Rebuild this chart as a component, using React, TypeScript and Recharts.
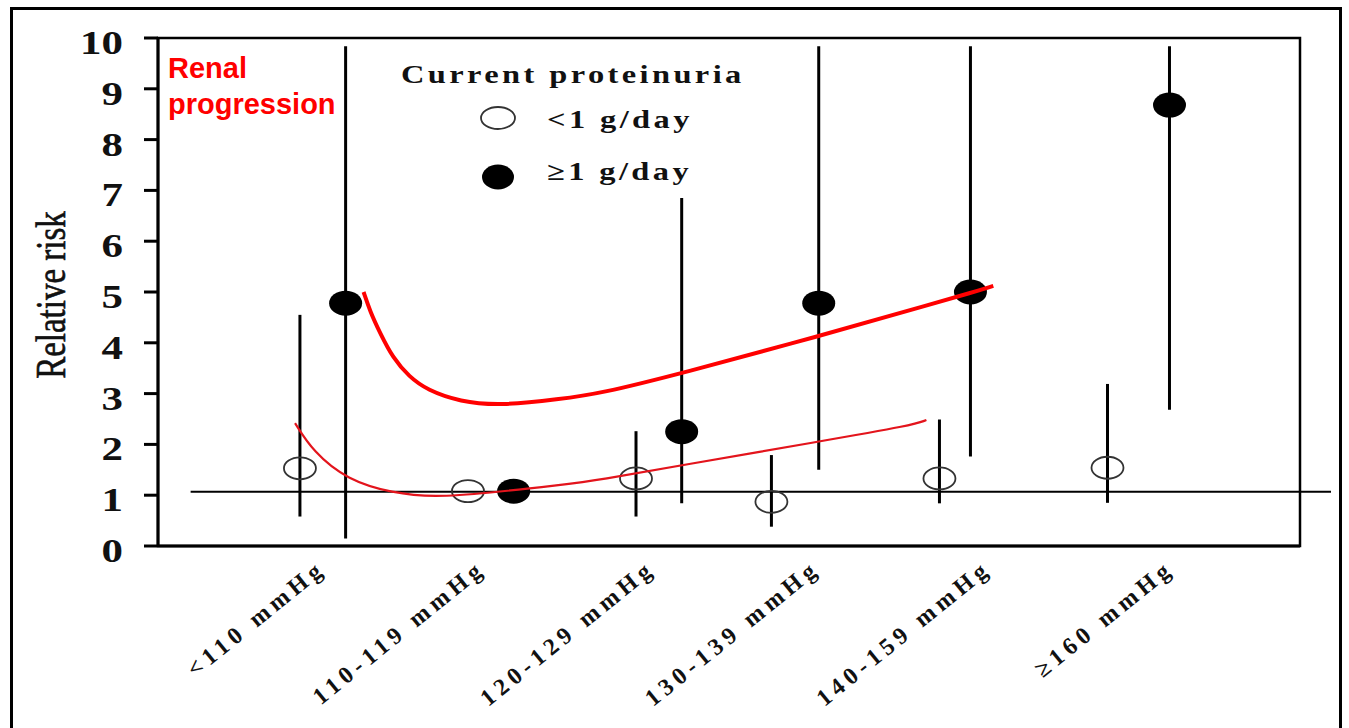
import React from 'react';
import { ComposedChart, XAxis, YAxis, Scatter, Line, ErrorBar, ReferenceLine, ReferenceArea, Legend, Label } from 'recharts';

// blood pressure groups and where their rotated labels sit on the x scale
const categories = ['<110 mmHg', '110-119 mmHg', '120-129 mmHg', '130-139 mmHg', '140-159 mmHg', '≥160 mmHg'];
const tickPos = [1.0, 1.98, 3.02, 4.03, 5.08, 6.2];
const yTicks = [0, 1, 2, 3, 4, 5, 6, 7, 8, 9, 10];

const legendTitle = 'Current proteinuria';
const lowName = '<1 g/day';
const highName = '≥1 g/day';

// current proteinuria <1 g/day (open circles)
const lowX = [0.87, 1.9, 2.93, 3.76, 4.79, 5.82];
const lowRR = [1.53, 1.08, 1.33, 0.87, 1.33, 1.54];
const lowCiLo = [0.58, null, 0.58, 0.38, 0.84, 0.85];
const lowCiHi = [4.55, null, 2.26, 1.79, 2.49, 3.19];

// current proteinuria >=1 g/day (filled circles)
const highX = [1.15, 2.18, 3.21, 4.05, 4.98, 6.2];
const highRR = [4.78, 1.08, 2.25, 4.78, 5.0, 8.68];
const highCiLo = [0.15, null, 0.84, 1.5, 1.76, 2.68];
const highCiHi = [9.84, null, 6.85, 9.84, 9.84, 9.84];

// hand drawn red trend curves
const thickX = [1.26, 1.3, 1.36, 1.44, 1.54, 1.65, 1.85, 2.1, 2.46, 2.71, 3.21, 4.04, 4.79, 4.98, 5.12];
const thickY = [5.0, 4.62, 4.2, 3.7, 3.33, 3.07, 2.84, 2.76, 2.89, 3.0, 3.4, 4.12, 4.81, 4.98, 5.12];
const thinX = [0.84, 0.95, 1.16, 1.44, 1.69, 2.02, 2.46, 2.71, 3.21, 4.04, 4.63, 4.71];
const thinY = [2.42, 1.86, 1.3, 1.04, 0.96, 1.04, 1.2, 1.3, 1.59, 2.05, 2.38, 2.48];

// RR = 1 line
const nullY = 1.07;
const nullFrom = 0.2;
const nullTo = 7.19;

const serif = "'Liberation Serif', 'Times New Roman', serif";

const toPoints = (xs: number[], ys: number[], lo: (number | null)[], hi: (number | null)[]) =>
  xs.map((x, i) => ({
    x,
    y: ys[i],
    err: [lo[i] == null ? 0 : ys[i] - (lo[i] as number), hi[i] == null ? 0 : (hi[i] as number) - ys[i]],
  }));

const lowData = toPoints(lowX, lowRR, lowCiLo, lowCiHi);
const highData = toPoints(highX, highRR, highCiLo, highCiHi);
const thickData = thickX.map((x, i) => ({ x, y: thickY[i] }));
const thinData = thinX.map((x, i) => ({ x, y: thinY[i] }));

const OpenDot = (p: any) => (
  <ellipse cx={p.cx} cy={p.cy} rx={16} ry={11} fill="none" stroke="#333" strokeWidth={1.8} />
);
const FilledDot = (p: any) => <ellipse cx={p.cx} cy={p.cy} rx={16.5} ry={12.5} fill="#000" />;

const YTick = ({ x, y, payload }: any) => (
  <text
    transform={`translate(${x},${y}) scale(1.3,1)`}
    x={0}
    y={16}
    textAnchor="end"
    fontFamily={serif}
    fontWeight="bold"
    fontSize={33}
    fill="#111"
  >
    {payload.value}
  </text>
);

const XTick = ({ x, y, payload }: any) => {
  const i = tickPos.indexOf(payload.value);
  return (
    <g transform={`translate(${x + 6},${y + 25})`}>
      <text
        transform="rotate(-39)"
        textAnchor="end"
        fontFamily={serif}
        fontWeight="bold"
        fontSize={24}
        letterSpacing={5}
        fill="#111"
      >
        {categories[i]}
      </text>
    </g>
  );
};

const YTitle = (props: any) => (
  <text
    transform="translate(65,295) scale(1.3,1) rotate(-90)"
    textAnchor="middle"
    fontFamily={serif}
    fontSize={33}
    fill="#111"
    stroke="#111"
    strokeWidth={0.5}
  >
    {props.value}
  </text>
);

const LegendBox = () => {
  const txt = { fontFamily: serif, fontWeight: 'bold' as const, fontSize: 25, fill: '#111', letterSpacing: 2.6 };
  return (
    <svg width={400} height={170} style={{ display: 'block' }}>
      <text transform="translate(21,43) scale(1.3,1)" {...txt}>{legendTitle}</text>
      <ellipse cx={118} cy={78} rx={17} ry={11} fill="none" stroke="#333" strokeWidth={1.8} />
      <text transform="translate(167,88) scale(1.3,1)" {...txt}>{lowName}</text>
      <ellipse cx={118} cy={137} rx={16} ry={12.5} fill="#000" />
      <text transform="translate(167,140) scale(1.3,1)" {...txt}>{highName}</text>
    </svg>
  );
};

export default function App() {
  return (
    <>
      <div
        style={{
          position: 'absolute',
          left: 10,
          top: 7,
          width: 1332,
          height: 721,
          border: '3px solid #000',
          borderBottom: 'none',
          boxSizing: 'border-box',
        }}
      />
      <div style={{ position: 'absolute', left: 0, top: 0 }}>
        <ComposedChart width={1349} height={728} margin={{ top: 38, right: 49, bottom: 12, left: 0 }}>
          <XAxis
            dataKey="x"
            type="number"
            domain={[0, 7]}
            ticks={tickPos}
            interval={0}
            height={170}
            tickSize={0}
            tickMargin={0}
            tickLine={false}
            tick={<XTick />}
            axisLine={{ stroke: '#000', strokeWidth: 3 }}
          />
          <YAxis
            dataKey="y"
            type="number"
            domain={[0, 10]}
            ticks={yTicks}
            interval={0}
            width={158}
            tickSize={14}
            tickMargin={21}
            tick={<YTick />}
            tickLine={{ stroke: '#000', strokeWidth: 3 }}
            axisLine={{ stroke: '#000', strokeWidth: 3 }}
            label={<Label value="Relative risk" content={YTitle} />}
          />
          <ReferenceArea x1={0} x2={7} y1={0} y2={10} fill="none" stroke="#000" strokeWidth={2.5} ifOverflow="visible" />
          <ReferenceLine
            segment={[{ x: nullFrom, y: nullY }, { x: nullTo, y: nullY }]}
            stroke="#000"
            strokeWidth={2}
            ifOverflow="visible"
          />
          <Scatter name={lowName} data={lowData} dataKey="y" shape={OpenDot} isAnimationActive={false}>
            <ErrorBar dataKey="err" direction="y" width={0} stroke="#000" strokeWidth={3} isAnimationActive={false} />
          </Scatter>
          <Scatter name={highName} data={highData} dataKey="y" shape={FilledDot} isAnimationActive={false}>
            <ErrorBar dataKey="err" direction="y" width={0} stroke="#000" strokeWidth={3} isAnimationActive={false} />
          </Scatter>
          <Line
            data={thickData}
            dataKey="y"
            type="basis"
            stroke="#ff0000"
            strokeWidth={4}
            dot={false}
            activeDot={false}
            legendType="none"
            isAnimationActive={false}
            zIndex={700}
          />
          <Line
            data={thinData}
            dataKey="y"
            type="basis"
            stroke="#e3141c"
            strokeWidth={2.2}
            dot={false}
            activeDot={false}
            legendType="none"
            isAnimationActive={false}
            zIndex={700}
          />
          <Legend
            layout="vertical"
            align="center"
            verticalAlign="middle"
            content={LegendBox}
            wrapperStyle={{ left: 380, top: 40, width: 400, height: 170 }}
          />
        </ComposedChart>
      </div>
      <div
        style={{
          position: 'absolute',
          left: 168,
          top: 50,
          fontFamily: "'Liberation Sans', Arial, sans-serif",
          fontWeight: 'bold',
          fontSize: 29,
          lineHeight: '36px',
          color: '#ff0000',
        }}
      >
        Renal
        <br />
        progression
      </div>
    </>
  );
}
